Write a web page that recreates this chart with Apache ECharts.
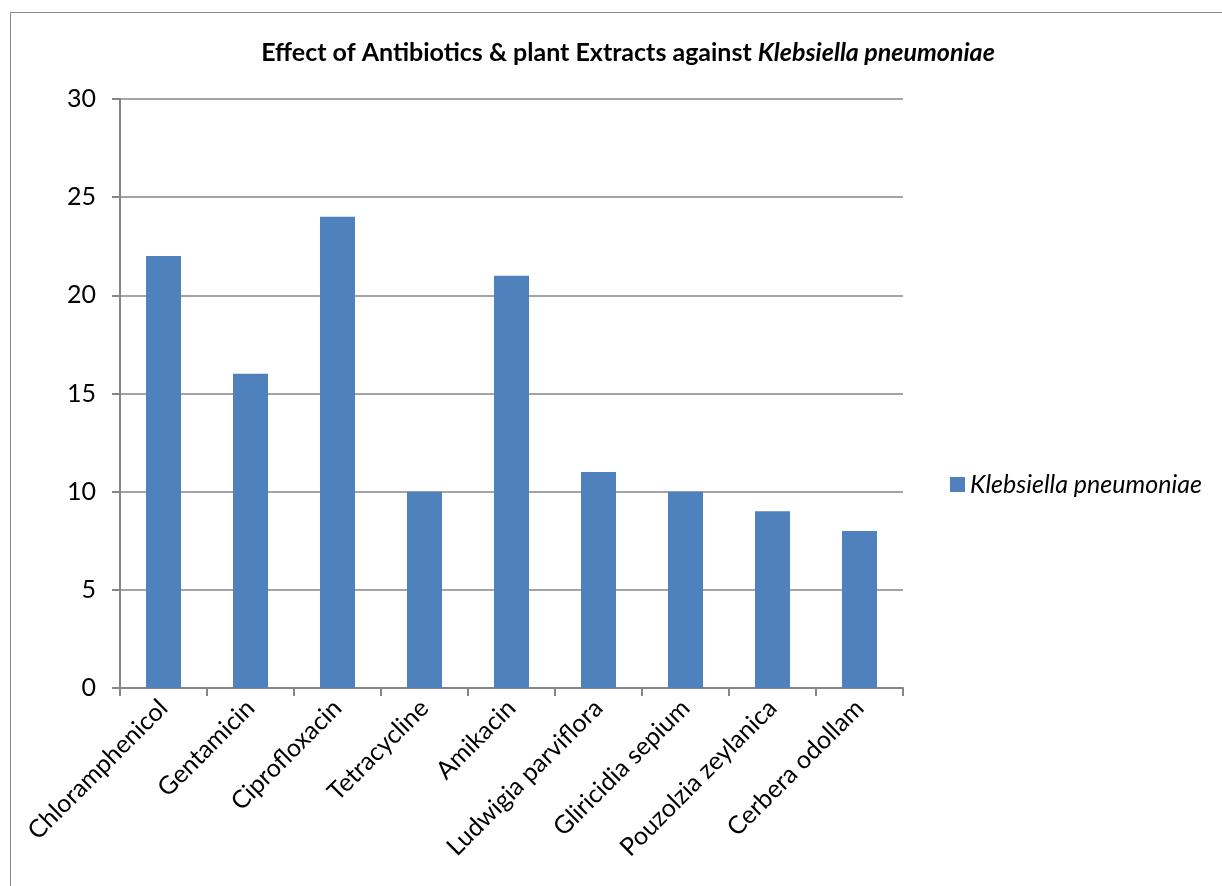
<!DOCTYPE html>
<html><head><meta charset="utf-8">
<script src="https://cdn.jsdelivr.net/npm/echarts@6/dist/echarts.min.js"></script>
<style>
html,body{margin:0;padding:0;background:#fff;}
#frame{position:absolute;left:10px;top:12px;width:1230px;height:900px;border:1px solid #888;box-sizing:border-box;}
#chart{position:absolute;left:0;top:0;width:1222px;height:886px;}
</style></head>
<body>
<div id="frame"></div>
<div id="chart"></div>
<script>
const categories = ["Chloramphenicol","Gentamicin","Ciprofloxacin","Tetracycline","Amikacin","Ludwigia parviflora","Gliricidia sepium","Pouzolzia zeylanica","Cerbera odollam"];
const seriesName = "Klebsiella pneumoniae";
const values = [22,16,24,10,21,11,10,9,8];
const yTicks = {min:0, max:30, interval:5};

const chart = echarts.init(document.getElementById('chart'), null, {renderer:'canvas'});
const font = 'Lato, "Open Sans", sans-serif';
chart.setOption({
  animation:false,
  backgroundColor:'transparent',
  title:{
    text:'{b|Effect of Antibiotics & plant Extracts against }{i|Klebsiella pneumoniae}',
    left:623, top:35, textAlign:'center',
    textStyle:{rich:{
      b:{fontFamily:font,fontWeight:'bold',fontSize:25,color:'#000'},
      i:{fontFamily:font,fontWeight:'bold',fontStyle:'italic',fontSize:25,color:'#000'}
    }}
  },
  legend:{
    data:[seriesName], left:945, top:467, itemWidth:15, itemHeight:15, itemGap:7,
    icon:'rect',
    textStyle:{fontFamily:font,fontStyle:'italic',fontSize:25,color:'#000'}
  },
  grid:{left:120, top:99, width:783, height:589, containLabel:false},
  xAxis:{
    type:'category', data:categories, boundaryGap:true,
    axisLine:{lineStyle:{color:'#868686',width:2}},
    axisTick:{show:true,alignWithLabel:false,length:8,lineStyle:{color:'#868686',width:2}},
    axisLabel:{rotate:45,fontFamily:font,fontSize:25,color:'#000',margin:16,interval:0}
  },
  yAxis:{
    type:'value', min:yTicks.min, max:yTicks.max, interval:yTicks.interval,
    axisLine:{show:true,lineStyle:{color:'#868686',width:2}},
    axisTick:{show:true,length:8,lineStyle:{color:'#868686',width:2}},
    axisLabel:{fontFamily:font,fontSize:25,color:'#000',margin:24},
    splitLine:{show:true,lineStyle:{color:'#868686',width:1.5}}
  },
  series:[{
    name:seriesName, type:'bar', data:values, barWidth:35,
    itemStyle:{color:'#4f81bd'}
  }]
});
</script>
</body></html>
